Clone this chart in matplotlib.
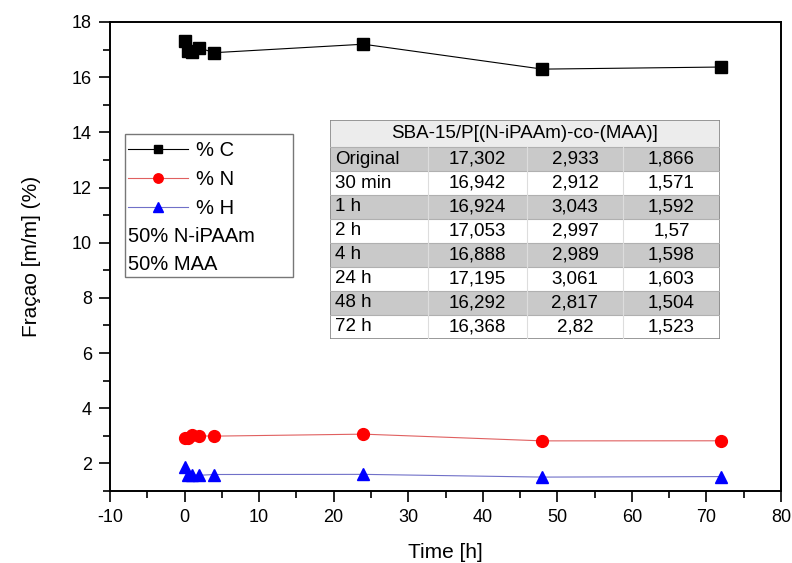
import matplotlib
matplotlib.use("Agg")
import matplotlib.pyplot as plt
from matplotlib.patches import Rectangle
from matplotlib.ticker import MultipleLocator

plt.rcParams['font.family'] = ['Liberation Sans', 'DejaVu Sans']
plt.rcParams['axes.unicode_minus'] = False

time_h = [0, 0.5, 1, 2, 4, 24, 48, 72]
row_labels = ["Original", "30 min", "1 h", "2 h", "4 h", "24 h", "48 h", "72 h"]
pct_C = [17.302, 16.942, 16.924, 17.053, 16.888, 17.195, 16.292, 16.368]
pct_N = [2.933, 2.912, 3.043, 2.997, 2.989, 3.061, 2.817, 2.82]
pct_H = [1.866, 1.571, 1.592, 1.57, 1.598, 1.603, 1.504, 1.523]
table_title = "SBA-15/P[(N-iPAAm)-co-(MAA)]"
legend_labels = ["% C", "% N", "% H"]
extra_lines = ["50% N-iPAAm", "50% MAA"]

W, H = 792, 563
fig = plt.figure(figsize=(W / 100, H / 100), dpi=100)
ax = fig.add_axes([110 / W, 1 - 491 / H, 671 / W, 469 / H])

l1, = ax.plot(time_h, pct_C, color='black', lw=0.8, marker='s', ms=8, mfc='black', mec='black')
l2, = ax.plot(time_h, pct_N, color='#e06060', lw=0.8, marker='o', ms=8.5, mfc='red', mec='red')
l3, = ax.plot(time_h, pct_H, color='#7070c8', lw=0.8, marker='^', ms=9, mfc='blue', mec='blue')

ax.set_xlim(-10, 80)
ax.set_ylim(1, 18)
ax.xaxis.set_major_locator(MultipleLocator(10))
ax.xaxis.set_minor_locator(MultipleLocator(5))
ax.yaxis.set_minor_locator(MultipleLocator(1))
ax.set_yticks([2, 4, 6, 8, 10, 12, 14, 16, 18])
ax.tick_params(which='major', direction='out', length=8, width=1.2, labelsize=13, pad=5)
ax.tick_params(which='minor', direction='out', length=5, width=1.2)
for s in ax.spines.values():
    s.set_linewidth(1.4)
ax.set_xlabel("Time [h]", fontsize=15, labelpad=12)
ax.set_ylabel("Fraçao [m/m] (%)", fontsize=15, labelpad=22)

# legend box
ax.add_patch(Rectangle((15 / 671, (491 - 277) / 469), (293 - 125) / 671, (277 - 134) / 469,
                       transform=ax.transAxes, fill=False, edgecolor='#777777', lw=1.0, zorder=5))
leg = ax.legend([l1, l2, l3], legend_labels, loc='upper left',
                bbox_to_anchor=(14 / 671, (491 - 137) / 469), frameon=False,
                fontsize=14.5, handlelength=3.0, handletextpad=0.4, labelspacing=0.5,
                borderpad=0.2, borderaxespad=0, markerscale=0.8)
ax.text(18 / 671, (491 - 237) / 469, extra_lines[0], transform=ax.transAxes,
        fontsize=14.5, va='center', ha='left')
ax.text(18 / 671, (491 - 264) / 469, extra_lines[1], transform=ax.transAxes,
        fontsize=14.5, va='center', ha='left')

# table
tx0, tx1, ty0, ty1 = 330, 720, 120, 339
tax = fig.add_axes([tx0 / W, 1 - ty1 / H, (tx1 - tx0) / W, (ty1 - ty0) / H])
tax.set_xlim(tx0, tx1)
tax.set_ylim(ty1, ty0)
tax.axis('off')
col_edges = [330, 428, 527, 623, 720]
header_h = 27
nrows = len(row_labels)
row_h = (ty1 - ty0 - header_h) / nrows
tax.add_patch(Rectangle((tx0, ty0), tx1 - tx0, header_h, facecolor='#ececec', edgecolor='none'))
tax.text((tx0 + tx1) / 2, ty0 + header_h / 2, table_title, ha='center', va='center', fontsize=13.5)

def fmt(v):
    return str(v).replace('.', ',')

for i, lab in enumerate(row_labels):
    y = ty0 + header_h + i * row_h
    if i % 2 == 0:
        tax.add_patch(Rectangle((tx0, y), tx1 - tx0, row_h, facecolor='#c9c9c9', edgecolor='none'))
    tax.axhline(y, color='#b0b0b0', lw=0.8)
    yc = y + row_h / 2
    tax.text(col_edges[0] + 5, yc, lab, ha='left', va='center', fontsize=13.5)
    for j, vals in enumerate([pct_C, pct_N, pct_H]):
        tax.text((col_edges[j + 1] + col_edges[j + 2]) / 2, yc, fmt(vals[i]),
                 ha='center', va='center', fontsize=13.5)
for xe in col_edges[1:-1]:
    tax.plot([xe, xe], [ty0 + header_h, ty1], color='#dddddd', lw=0.8)
tax.add_patch(Rectangle((tx0, ty0), tx1 - tx0, ty1 - ty0, fill=False, edgecolor='#888888', lw=1.2))

fig.savefig("out.png", dpi=100)
